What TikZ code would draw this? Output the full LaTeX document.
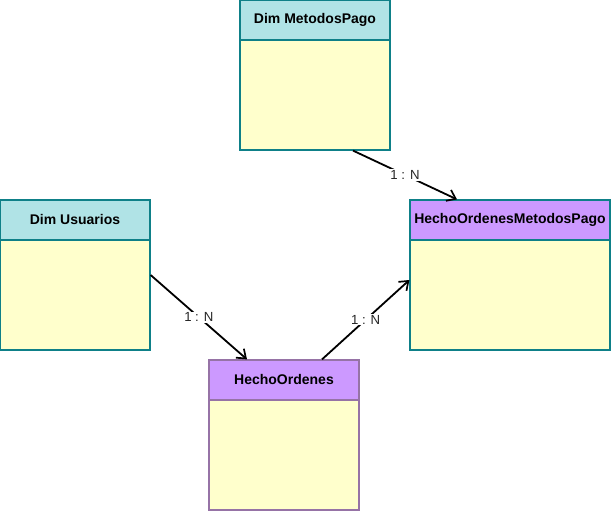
\documentclass[tikz,border=0pt]{standalone}
\usepackage{fontspec}
\setmainfont{Liberation Sans}
\usetikzlibrary{arrows.meta}
\definecolor{bodyyellow}{HTML}{FFFFCC}
\definecolor{tealhead}{HTML}{B0E3E6}
\definecolor{tealline}{HTML}{0E8088}
\definecolor{purplehead}{HTML}{CC99FF}
\definecolor{purpleline}{HTML}{9673A6}
\begin{document}
\begin{tikzpicture}[x=1pt,y=1pt,
  body/.style={draw, line width=1.2pt, fill=bodyyellow, minimum height=150pt, inner sep=0pt},
  hdr/.style={draw, line width=1.2pt, minimum height=40pt, inner sep=0pt, anchor=north,
    font=\fontsize{14}{16}\selectfont\bfseries},
  rel/.style={line width=1.8pt, -{Straight Barb[length=8pt,width=12pt,line width=1.7pt]}},
  card/.style={fill=white, inner sep=1pt, font=\fontsize{13.2}{15}\selectfont, text=black!85}
]
\useasboundingbox (0,0) rectangle (611,511);
% Dim MetodosPago
\node[body, draw=tealline, minimum width=150pt] (mp) at (315,436) {};
\node[hdr, draw=tealline, fill=tealhead, minimum width=150pt] (mph) at (mp.north) {Dim MetodosPago};
% Dim Usuarios
\node[body, draw=tealline, minimum width=150pt] (du) at (75,236) {};
\node[hdr, draw=tealline, fill=tealhead, minimum width=150pt] (duh) at (du.north) {Dim Usuarios};
% HechoOrdenesMetodosPago
\node[body, draw=tealline, minimum width=200pt] (homp) at (510,236) {};
\node[hdr, draw=tealline, fill=purplehead, minimum width=200pt] (homph) at (homp.north) {HechoOrdenesMetodosPago};
% HechoOrdenes
\node[body, draw=purpleline, minimum width=150pt] (ho) at (284,76) {};
\node[hdr, draw=purpleline, fill=purplehead, minimum width=150pt] (hoh) at (ho.north) {HechoOrdenes};
% relations
\draw[rel] ([xshift=38pt]mp.south) -- node[card] {1 : N} ([xshift=-53pt]homph.north);
\draw[rel] (du.east) -- node[card] {1 : N} ([xshift=-37pt]hoh.north);
\draw[rel] ([xshift=38pt]hoh.north) -- node[card] {1 : N} ([yshift=-5pt]homp.west);
\end{tikzpicture}
\end{document}
